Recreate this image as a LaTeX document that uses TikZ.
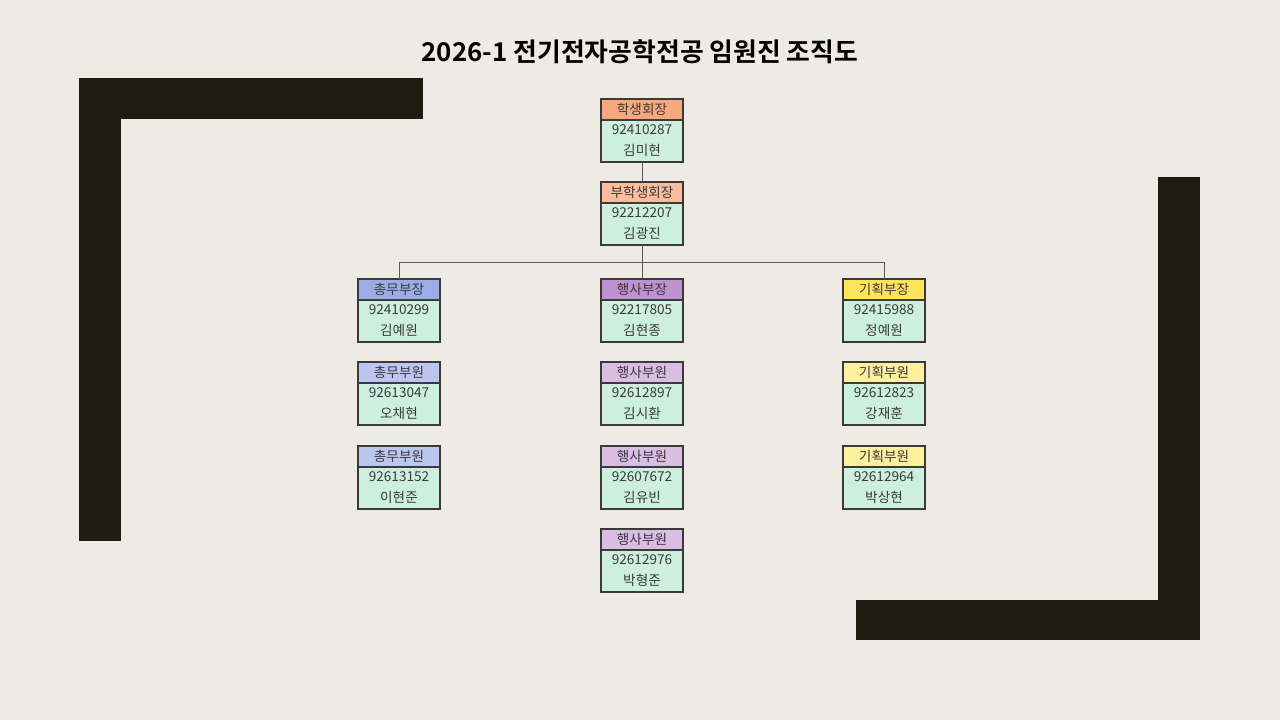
\documentclass[tikz,border=0pt]{standalone}
\usepackage{fontspec}
\setmainfont{Noto Sans CJK KR}
\newfontfamily\titlefont{Noto Sans CJK KR Bold}
\usetikzlibrary{calc}
\definecolor{bg}{HTML}{EDEBE3}
\definecolor{dark}{HTML}{1C1C10}
\definecolor{bodyc}{HTML}{CDEFE0}
\definecolor{edgec}{HTML}{3A3A3A}
\definecolor{linec}{HTML}{5A5A5A}
\definecolor{txt}{HTML}{3A3A3A}
\definecolor{presc}{HTML}{F9A87E}
\definecolor{vpresc}{HTML}{FBBD9E}
\definecolor{gahead}{HTML}{9AAEE6}
\definecolor{gamem}{HTML}{BCC6F0}
\definecolor{evhead}{HTML}{C091D0}
\definecolor{evmem}{HTML}{D9BDE3}
\definecolor{plhead}{HTML}{FFE45C}
\definecolor{plmem}{HTML}{FFF09E}
\tikzset{
  x=0.75pt, y=-0.75pt,
  boxframe/.style={draw=edgec, line width=0.9pt, fill=bodyc, minimum width=61.5pt, minimum height=47.25pt, inner sep=0pt, outer sep=0pt},
  boxtext/.style={font=\fontsize{10.2}{12}\selectfont, text=txt, inner sep=0pt},
  conn/.style={draw=linec, line width=0.75pt},
  darkbar/.style={fill=dark}
}
% #1 name, #2 center x, #3 top y, #4 header colour, #5 role, #6 id, #7 person
\newcommand\orgbox[7]{%
  \node[boxframe, anchor=north] (#1) at (#2,#3) {};
  \fill[#4] (#1.north west) rectangle ($(#1.north east)+(0,21)$);
  \draw[edgec, line width=0.9pt] ($(#1.north west)+(0,21)$) -- ($(#1.north east)+(0,21)$);
  \draw[edgec, line width=0.9pt] (#1.north west) rectangle (#1.south east);
  \node[boxtext] (#1-role) at ($(#1.north)+(0,10.5)$) {#5};
  \node[boxtext] (#1-id) at ($(#1.north)+(0,30.5)$) {#6};
  \node[boxtext] (#1-name) at ($(#1.north)+(0,51.5)$) {#7};
}
\begin{document}
\begin{tikzpicture}
\fill[bg] (0,0) rectangle (1280,720);
\useasboundingbox (0,0) rectangle (1280,720);
% decorative brackets
\fill[darkbar] (79,78) rectangle (423,119);
\fill[darkbar] (79,78) rectangle (121,541);
\fill[darkbar] (1158,177) rectangle (1200,640);
\fill[darkbar] (856,600) rectangle (1200,640);
% title
\node[font=\titlefont\fontsize{19.4}{23}\selectfont, text=black] (title) at (640,52) {2026-1 전기전자공학전공 임원진 조직도};
% boxes
\orgbox{pres}{642}{99}{presc}{학생회장}{92410287}{김미현}
\orgbox{vpres}{642}{182}{vpresc}{부학생회장}{92212207}{김광진}
\orgbox{ga}{399}{279}{gahead}{총무부장}{92410299}{김예원}
\orgbox{gaa}{399}{362}{gamem}{총무부원}{92613047}{오채현}
\orgbox{gab}{399}{446}{gamem}{총무부원}{92613152}{이현준}
\orgbox{ev}{642}{279}{evhead}{행사부장}{92217805}{김현종}
\orgbox{eva}{642}{362}{evmem}{행사부원}{92612897}{김시환}
\orgbox{evb}{642}{446}{evmem}{행사부원}{92607672}{김유빈}
\orgbox{evc}{642}{529}{evmem}{행사부원}{92612976}{박형준}
\orgbox{pl}{884}{279}{plhead}{기획부장}{92415988}{정예원}
\orgbox{pla}{884}{362}{plmem}{기획부원}{92612823}{강재훈}
\orgbox{plb}{884}{446}{plmem}{기획부원}{92612964}{박상현}
% connectors
\coordinate (bus) at (642,262.5);
\draw[conn] (pres.south) -- (vpres.north);
\draw[conn] (vpres.south) -- (ev.north);
\draw[conn] (ga.north) |- (bus) -| (pl.north);
\end{tikzpicture}
\end{document}
